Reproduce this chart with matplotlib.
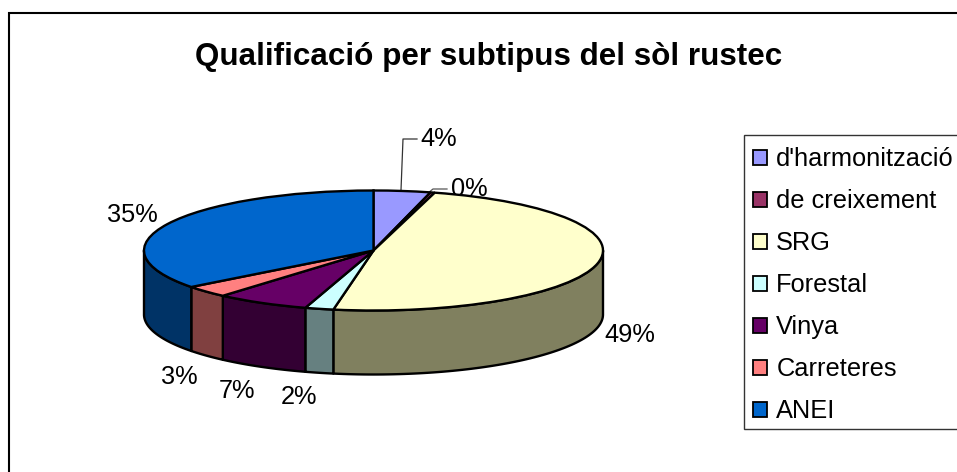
import numpy as np
import matplotlib
matplotlib.use('Agg')
import matplotlib.pyplot as plt
from matplotlib.patches import Polygon, Rectangle

plt.rcParams['font.family'] = ['Liberation Sans', 'DejaVu Sans']

title = 'Qualificació per subtipus del sòl rustec'
categories = ["d'harmonització", 'de creixement', 'SRG', 'Forestal', 'Vinya', 'Carreteres', 'ANEI']
values = [4.0, 0.3, 48.5, 2.0, 6.6, 3.2, 35.4]
pct_labels = ['4%', '0%', '49%', '2%', '7%', '3%', '35%']
top_colors = ['#9999ff', '#993366', '#ffffcc', '#ccffff', '#660066', '#ff8080', '#0066cc']
side_colors = ['#6b6bb3', '#6b2447', '#80805f', '#668080', '#330033', '#804040', '#003366']

W, H = 957, 472
# pie ellipse in pixels
cx, cy, rx, ry = 373.5, 250.5, 229.5, 60.0
depth = 64 / ry

fig = plt.figure(figsize=(W / 100, H / 100), dpi=100, facecolor='white')

# chart border and all text go on a full figure axes, in pixel units
bg = fig.add_axes([0, 0, 1, 1])
bg.set_xlim(0, W)
bg.set_ylim(H, 0)
bg.axis('off')
# only the top and left of the border are in the picture
bg.plot([9, 9, W], [H, 13, 13], color='black', lw=1.5, solid_joinstyle='miter')

ax = fig.add_axes([(cx - rx) / W, 1 - (cy + ry) / H, 2 * rx / W, 2 * ry / H])
wedges, _ = ax.pie(values, colors=top_colors, startangle=90, counterclock=False, radius=1,
                   wedgeprops=dict(edgecolor='black', linewidth=1.7, zorder=5))
ax.set_aspect('auto')
ax.set_xlim(-1, 1)
ax.set_ylim(-1, 1)

# side walls, only the front half of the pie shows
edges = 90 - 3.6 * np.cumsum([0] + values)
for i in range(len(values)):
    a1, a2 = edges[i], edges[i + 1]
    lo, hi = max(a2, -180), min(a1, 0)
    if lo >= hi:
        continue
    t = np.radians(np.linspace(hi, lo, 80))
    x = np.cos(t)
    y = np.sin(t)
    pts = np.r_[np.c_[x, y], np.c_[x[::-1], y[::-1] - depth]]
    ax.add_patch(Polygon(pts, closed=True, fc=side_colors[i], ec='black', lw=1.7,
                         clip_on=False, zorder=3, joinstyle='round'))

bg.text(488.5, 57, title, fontsize=22.6, fontweight='bold', ha='center', va='center')

# percent labels
label_pos = [(439, 139), (469, 189.5), (630, 334.5), (299, 397), (237, 391), (179.5, 377), (132, 215.5)]
for s, (x, y) in zip(pct_labels, label_pos):
    bg.text(x, y, s, fontsize=18.3, ha='center', va='center', zorder=6)
# leader lines
bg.plot([401, 403, 417], [190, 139, 139], color='#333333', lw=0.9)
bg.plot([428, 433, 447], [193, 189, 189], color='#555555', lw=0.9)

# legend frame runs off the right edge in the original too
bg.add_patch(Rectangle((743.5, 135), 300, 294, fc='white', ec='#333333', lw=1.0))
leg = fig.legend(wedges, categories, loc='upper left', bbox_to_anchor=(743.5 / W, 1 - 137.5 / H),
                 bbox_transform=fig.transFigure, fontsize=18.3, frameon=False,
                 borderaxespad=0, borderpad=0.38, labelspacing=0.71,
                 handlelength=0.55, handleheight=0.55, handletextpad=0.36)
for h in leg.legend_handles:
    h.set_linewidth(1.3)

fig.savefig('out.png', dpi=100)
